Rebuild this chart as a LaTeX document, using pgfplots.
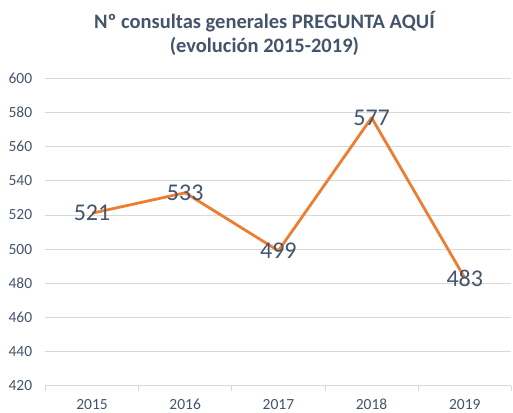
\documentclass[border=0pt]{standalone}
\usepackage{fontspec}
\setmainfont{Carlito}
\usepackage{pgfplots}
\pgfplotsset{compat=1.18}
\definecolor{txt}{HTML}{44546A}
\definecolor{org}{HTML}{ED7D31}
\definecolor{grd}{HTML}{D9D9D9}
\begin{document}
\begin{tikzpicture}
\useasboundingbox (-45.4pt,-26.5pt) rectangle (467.6pt,385.5pt);
\begin{axis}[
  scale only axis, width=466pt, height=307pt,
  xmin=-0.5, xmax=4.5, ymin=420, ymax=600,
  ytick={420,440,...,600},
  xtick={0,1,2,3,4}, xticklabels={2015,2016,2017,2018,2019},
  minor xtick={-0.5,0.5,1.5,2.5,3.5,4.5},
  major tick length=0pt, minor tick length=5pt, tick align=outside,
  axis x line*=bottom, axis y line*=left,
  y axis line style={draw=none},
  x axis line style={draw=grd, line width=0.8pt, -},
  minor tick style={draw=grd, line width=0.8pt},
  ymajorgrids, grid style={draw=grd, line width=0.8pt},
  /pgf/number format/assume math mode=true,
  /pgf/number format/1000 sep={},
  tick label style={font=\fontsize{15.5}{18}\selectfont, text=txt},
  yticklabel style={inner sep=0pt, anchor=east, xshift=-13pt},
  xticklabel style={inner sep=0pt, anchor=north, yshift=-13.5pt},
  nodes near coords,
  every node near coord/.append style={anchor=center, font=\fontsize{24}{28}\selectfont, text=txt, inner sep=0pt},
  clip=false,
]
\addplot[draw=org, line width=2.8pt, line join=round, no markers] coordinates {
  (0,521) (1,533) (2,499) (3,577) (4,483)
};
\end{axis}
\node[font=\bfseries\fontsize{20.5}{24}\selectfont, text=txt, anchor=base, inner sep=0pt] at (219pt,356.5pt) {Nº consultas generales PREGUNTA AQUÍ};
\node[font=\bfseries\fontsize{20.5}{24}\selectfont, text=txt, anchor=base, inner sep=0pt] at (219pt,333.2pt) {(evolución 2015-2019)};
\end{tikzpicture}
\end{document}
